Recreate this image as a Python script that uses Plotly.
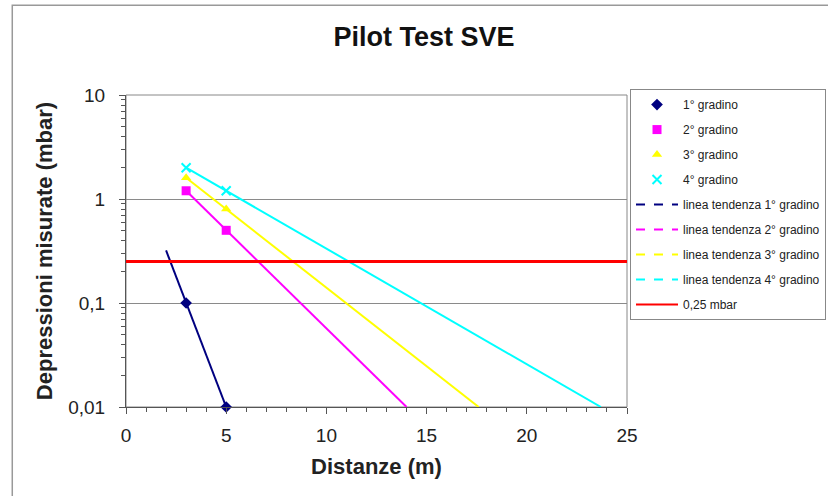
import plotly.graph_objects as go

# Measured depressions per step (distance in m, depression in mbar)
dist = [3, 5]
step1 = [0.1, 0.01]
step2 = [1.2, 0.5]
step3 = [1.6, 0.8]
step4 = [2.0, 1.2]

# Exponential trend lines: end points
trend1_x, trend1_y = [2.0, 5.0], [0.32, 0.01]
trend2_x, trend2_y = [3.0, 14.0], [1.2, 0.01]
trend3_x, trend3_y = [3.0, 17.6], [1.6, 0.01]
trend4_x, trend4_y = [3.0, 23.7], [2.0, 0.01]

threshold_x = [0, 25]
threshold_y = [0.25, 0.25]

names = ["1° gradino", "2° gradino", "3° gradino", "4° gradino"]
trend_names = ["linea tendenza 1° gradino", "linea tendenza 2° gradino",
               "linea tendenza 3° gradino", "linea tendenza 4° gradino"]
colors = ["#000080", "#FF00FF", "#FFFF00", "#00FFFF"]
symbols = ["diamond", "square", "triangle-up", "x-thin"]

fig = go.Figure()

# Trend lines drawn solid in the plot
for tx, ty, c in zip([trend1_x, trend2_x, trend3_x, trend4_x],
                     [trend1_y, trend2_y, trend3_y, trend4_y], colors):
    fig.add_trace(go.Scatter(x=tx, y=ty, mode="lines", line=dict(color=c, width=2),
                             showlegend=False, hoverinfo="skip", cliponaxis=False))

# Threshold line
fig.add_trace(go.Scatter(x=threshold_x, y=threshold_y, mode="lines",
                         line=dict(color="#FF0000", width=3), showlegend=False))

# Measured points
for i, (ys, c, s, n) in enumerate(zip([step1, step2, step3, step4], colors, symbols, names)):
    mk = dict(color=c, size=9, symbol=s)
    if s == "x-thin":
        mk = dict(color=c, size=9, symbol=s, line=dict(color=c, width=2))
    fig.add_trace(go.Scatter(x=dist, y=ys, mode="markers", name=n, marker=mk,
                             cliponaxis=False, legendgroup=f"g{i}"))

# Legend entries for trend lines (dashed) and threshold
for i, (n, c) in enumerate(zip(trend_names, colors)):
    fig.add_trace(go.Scatter(x=[None], y=[None], mode="lines", name=n,
                             line=dict(color=c, width=2, dash="dash"), legendgroup=f"t{i}"))
fig.add_trace(go.Scatter(x=[None], y=[None], mode="lines", name="0,25 mbar",
                         line=dict(color="#FF0000", width=2), legendgroup="red"))

font_family = "Liberation Sans, Arial, sans-serif"

fig.update_layout(
    width=828, height=496,
    margin=dict(l=126, r=201, t=95, b=89, autoexpand=False),
    paper_bgcolor="white", plot_bgcolor="white",
    separators=",.",
    font=dict(family=font_family, color="#222222"),
    title=dict(text="<b>Pilot Test SVE</b>", x=424 / 828, xanchor="center",
               y=1 - 37 / 496, yanchor="middle", font=dict(size=27, color="#111111")),
    xaxis=dict(range=[0, 25], dtick=5, showgrid=False, zeroline=False,
               showline=True, linecolor="#555555", linewidth=1,
               ticks="outside", ticklen=6, tickcolor="#555555",
               minor=dict(ticks="outside", ticklen=4, dtick=1, tickcolor="#555555"),
               tickfont=dict(size=19), ticklabelstandoff=5,
               title=dict(text="<b>Distanze (m)</b>", font=dict(size=22), standoff=13)),
    yaxis=dict(type="log", range=[-2, 1], dtick=1, showgrid=True,
               gridcolor="#8a8a8a", gridwidth=1, zeroline=False,
               showline=True, linecolor="#555555", linewidth=1,
               ticks="outside", ticklen=6, tickcolor="#555555",
               minor=dict(ticks="outside", ticklen=4, dtick="D1", tickcolor="#555555",
                          showgrid=False),
               tickfont=dict(size=19), ticklabelstandoff=10,
               title=dict(text="<b>Depressioni misurate (mbar)</b>", font=dict(size=22),
                          standoff=9)),
    legend=dict(x=1.006, y=1.019, xanchor="left", yanchor="top",
                bordercolor="#888888", borderwidth=1, bgcolor="white",
                font=dict(size=12, color="#222222"), tracegroupgap=6,
                itemwidth=42, maxheight=440),
    shapes=[
        # plot-area frame
        dict(type="rect", xref="paper", yref="paper", x0=0, y0=0, x1=1, y1=1,
             line=dict(color="#888888", width=1), layer="below"),
        # chart-area frame
        dict(type="rect", xref="paper", yref="paper", x0=-0.227, y0=-0.32,
             x1=1.45, y1=1.288, line=dict(color="#999999", width=1.5), layer="below"),
    ],
)

fig.write_html("out.html")
